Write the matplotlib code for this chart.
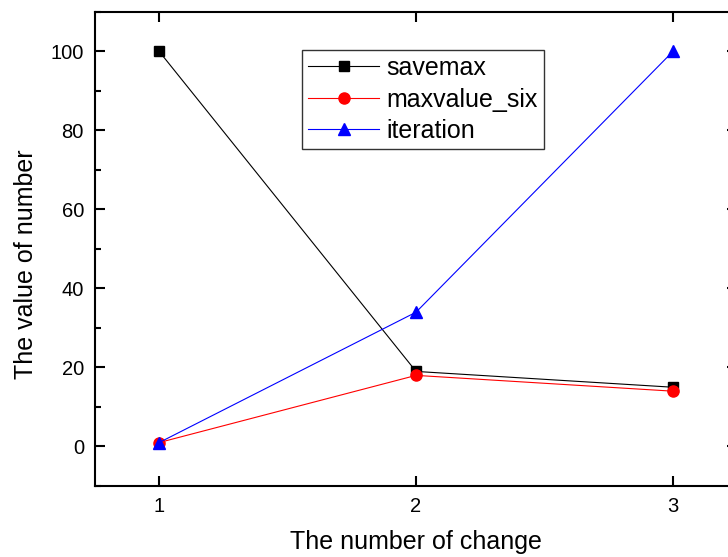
import matplotlib.pyplot as plt
from matplotlib.ticker import MultipleLocator

plt.rcParams['font.family'] = ['Liberation Sans', 'DejaVu Sans']

# number of change on the x axis
changes = [1, 2, 3]
savemax = [100, 19, 15]
maxvalue_six = [1, 18, 14]
iteration = [1, 34, 100]

fig = plt.figure(figsize=(7.28, 5.57), dpi=100)
ax = fig.add_axes([0.1305, 0.1275, 0.882, 0.851])

ax.plot(changes, savemax, color='black', lw=0.8, marker='s', ms=7, label='savemax')
ax.plot(changes, maxvalue_six, color='red', lw=0.8, marker='o', ms=8, label='maxvalue_six')
ax.plot(changes, iteration, color='blue', lw=0.8, marker='^', ms=9, label='iteration')

ax.set_xlim(0.75, 3.25)
ax.set_ylim(-10, 110)
ax.set_xticks(changes)
ax.yaxis.set_major_locator(MultipleLocator(20))
ax.yaxis.set_minor_locator(MultipleLocator(10))

for s in ax.spines.values():
    s.set_linewidth(1.5)
ax.tick_params(which='both', direction='in', top=True, right=True, width=1.5)
ax.tick_params(which='major', length=7, labelsize=14.5, pad=8)
ax.tick_params(which='minor', length=4)

ax.set_xlabel('The number of change', fontsize=18, labelpad=10)
ax.set_ylabel('The value of number', fontsize=18)
ax.yaxis.set_label_coords(-0.089, 0.468)

leg = ax.legend(loc='upper left', bbox_to_anchor=(0.322, 0.92), borderaxespad=0,
                fontsize=18, frameon=True, fancybox=False, handlelength=2.85,
                handletextpad=0.3, labelspacing=0.3, borderpad=0.25)
leg.get_frame().set_edgecolor('black')
leg.get_frame().set_linewidth(1.0)

fig.savefig('out.png', dpi=100)
